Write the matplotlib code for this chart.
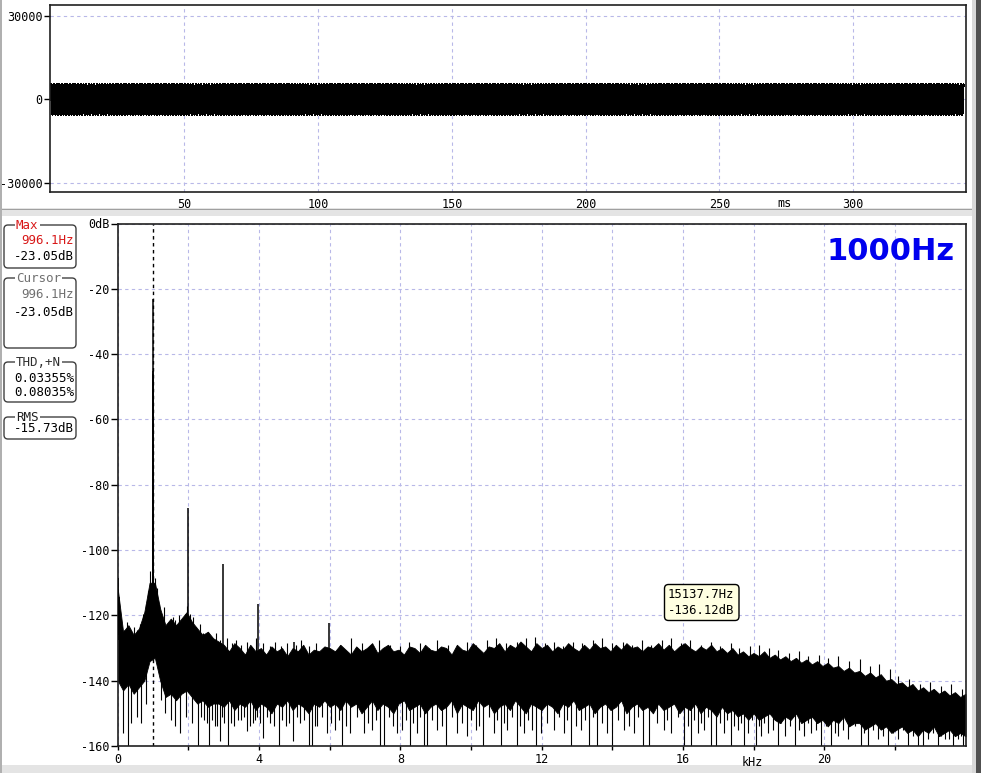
import numpy as np
import matplotlib
matplotlib.use("Agg")
import matplotlib.pyplot as plt
from matplotlib.patches import FancyBboxPatch, Rectangle

W, H = 981, 773
plt.rcParams['font.family'] = ['DejaVu Sans Mono', 'DejaVu Sans']
plt.rcParams['font.size'] = 8.5
plt.rcParams['path.simplify'] = False

# waveform (tone)
sample_rate = 48000
n_samples = 16384
tone_hz = 1000.0
tone_amp = 5355

wave_yticks = [-30000, 0, 30000]
wave_ylabels = ['-30000', '0', '30000']
wave_xticks = [50, 100, 150, 200, 250, 300]

# spectrum: harmonics / main peak bins
peak_khz = [0.0, 0.03, 0.9873, 0.9902, 0.9932, 0.9961, 0.9990, 1.0020, 1.0049, 1.995, 2.99, 3.98, 4.98, 5.97]
peak_db = [-108.6, -114.5, -111, -92.5, -45.3, -23.05, -46.0, -99, -110, -87.0, -104.3, -116.6, -128, -122.2]

# noise floor: upper / lower edge of the dense trace, every 0.15 kHz from 0 to 24 kHz
noise_step_khz = 0.15
noise_hi = [-112, -125, -123, -126, -124, -119, -110, -110, -118, -123, -121, -123, -121, -119, -122, -124, -126, -125, -127, -128,
            -129, -131, -128.5, -130, -132, -129, -131, -130, -132, -129.5, -131, -130, -132.5, -130, -131, -129, -132, -130.5, -131, -129.5,
            -130, -131, -129, -130.5, -132, -129.5, -131, -130, -128.5, -131.5, -130, -129, -131, -130.5, -132, -129.5, -130, -131.5, -129, -130.5,
            -131, -129.5, -130, -132, -129, -130.5, -131, -128.5, -130, -131.5, -129.5, -130, -128.5, -131, -129, -130, -128, -129.5, -131, -128.5,
            -130, -129, -131, -129.5, -130.5, -128.5, -130, -131, -129, -130.5, -128.5, -130, -129.5, -131, -129, -130.5, -128.5, -130, -129.5, -131,
            -129.5, -130, -128.5, -130.5, -129, -131, -129.5, -128.5, -130, -131, -129.5, -130.5, -129, -131, -130, -131.5, -130, -132, -131, -132.5,
            -131.5, -132.5, -131, -133, -132, -133.5, -132.5, -134, -133, -134.5, -133.5, -135, -134, -135.5, -134.5, -136, -135.5, -137, -136, -137.5,
            -137, -138.5, -137.5, -139, -138, -140, -139.5, -141, -140.5, -142, -141, -143, -142, -143.5, -142.5, -144, -143, -144.5, -143.5, -145, -144]
noise_lo = [-140, -143, -141, -144, -142, -140, -134, -133, -140, -145, -144, -146, -144, -143, -145, -147, -146, -148, -147, -147,
            -148, -146, -149, -147, -148, -146, -149, -147, -148, -150, -147, -148, -146, -149, -147, -148, -150, -147, -148, -146,
            -148, -147, -149, -146, -148, -147, -150, -148, -146, -149, -147, -148, -150, -147, -146, -149, -148, -147, -150, -148,
            -147, -149, -148, -146, -150, -147, -148, -149, -146, -148, -147, -150, -148, -147, -149, -146, -148, -150, -147, -148,
            -149, -147, -148, -150, -147, -148, -146, -149, -148, -147, -150, -148, -147, -149, -148, -146, -150, -148, -147, -149,
            -148, -150, -147, -149, -148, -147, -150, -148, -149, -147, -150, -148, -149, -151, -148, -150, -149, -151, -150, -152,
            -150, -152, -151, -150, -152, -153, -151, -152, -150, -153, -152, -151, -153, -152, -154, -152, -153, -151, -154, -153,
            -153, -155, -154, -153, -155, -154, -156, -155, -154, -156, -155, -157, -155, -156, -154, -157, -156, -155, -157, -156, -157]

# thin spike tips above the trace
tip_khz = [0.08, 0.18, 0.27, 0.36, 0.45, 0.55, 0.63, 0.72, 0.80, 0.86, 0.92, 1.05, 1.10, 1.16, 1.22, 1.30,
           1.38, 1.47, 1.55, 1.63, 1.72, 1.82, 1.90, 1.97, 2.05, 2.12, 2.22, 2.32, 2.42, 2.55, 2.65, 2.78,
           2.88, 3.08, 3.22, 3.35, 3.50, 3.65, 3.78, 3.90, 4.10, 4.30, 4.45, 4.62, 4.80, 5.05, 5.20, 5.40,
           5.60, 5.80, 6.30, 6.60, 6.90, 7.15, 7.40, 7.70, 8.00, 8.25, 8.55, 8.80, 9.05, 9.35, 9.60, 9.90,
           10.15, 10.45, 10.70, 11.00, 11.30, 11.55, 11.80, 12.10, 12.35, 12.60, 12.90, 13.15, 13.45, 13.70,
           14.00, 14.30, 14.55, 14.85, 15.10, 15.40, 15.65, 15.95, 16.20, 16.50, 16.80, 17.05, 17.35, 17.60,
           17.90, 18.15, 18.45, 18.70, 19.00, 19.30, 19.55, 19.85, 20.10, 20.40, 20.70, 21.00, 21.30, 21.55,
           21.85, 22.10, 22.40, 22.70, 23.00, 23.30, 23.60, 23.90]
tip_db = [-122.5, -124.5, -122, -125.5, -123.5, -124.5, -122.5, -119.5, -116.5, -112.5, -106.5, -108.5, -111.5, -116.5, -119.5, -117.5,
          -122.5, -123.5, -120.5, -121.5, -120, -122.5, -119.5, -117, -119.5, -120.5, -123.5, -122.5, -125.5, -125, -126.5, -125.5,
          -127.5, -127, -128.5, -127.5, -129, -128, -129.5, -127, -128.5, -129.5, -128, -129.5, -128.5, -129, -127.5, -129.5,
          -128.5, -130, -129, -127, -128.5, -129.5, -127.5, -129, -129.5, -128, -128.5, -130, -127.5, -129, -129.5, -128,
          -129, -127.5, -127, -128.5, -128, -127, -126.5, -128.5, -128, -129.5, -128, -128.5, -127.5, -127,
          -128.5, -128, -129, -127.5, -129, -127.5, -127, -128.5, -127.5, -129, -128, -129.5, -128.5, -130,
          -129.5, -129, -130, -130.5, -131.5, -131, -132.5, -132, -133, -132.5, -134, -133.5, -135.5, -135,
          -136.5, -138.5, -139.5, -141, -140.5, -141.5, -141, -142.5]

# deep dips below the trace
dip_khz = [0.15, 0.29, 0.38, 0.55, 0.67, 0.79, 1.22, 1.35, 1.50, 1.62, 1.76, 1.92, 2.10, 2.28, 2.45, 2.59,
           2.75, 2.89, 3.02, 3.13, 3.30, 3.48, 3.65, 3.82, 3.95, 4.12, 4.30, 4.55, 4.75, 4.97, 5.15, 5.40,
           5.49, 5.65, 5.92, 6.16, 6.35, 6.58, 6.96, 7.20, 7.43, 7.55, 7.91, 8.05, 8.27, 8.47, 8.66, 8.74,
           9.04, 9.30, 9.61, 9.89, 10.13, 10.35, 10.65, 10.84, 11.03, 11.31, 11.50, 11.74, 11.83, 11.97,
           12.35, 12.63, 12.82, 13.11, 13.34, 13.58, 13.86, 14.00, 14.34, 14.62, 14.86, 15.05, 15.47, 15.66,
           16.04, 16.23, 16.42, 16.61, 16.80, 16.94, 17.17, 17.36, 17.55, 17.74, 17.83, 18.07, 18.21, 18.40,
           18.69, 18.88, 19.16, 19.44, 19.63, 19.92, 20.20, 20.39, 20.67, 21.05, 21.24, 21.52, 21.81, 22.09,
           22.38, 22.66, 22.80, 22.94, 23.22, 23.41, 23.65, 23.79, 23.93]
dip_db = [-156, -160, -153, -151, -153, -147, -146, -150, -152, -154, -156, -151, -153, -160, -152, -160,
          -154, -158.5, -153, -160, -154, -152, -155.5, -153, -151, -157.5, -153, -160, -154, -158.5, -153, -160,
          -160, -154, -156, -155, -160, -156, -156, -155, -160, -160, -156, -155, -160, -156, -160, -160,
          -155, -160, -156, -157, -155, -160, -156, -160, -155, -160, -156, -155, -160, -156,
          -155, -156, -160, -155, -160, -160, -156, -160, -155, -156, -160, -160, -155, -156,
          -160, -160, -156, -155, -160, -160, -156, -160, -155, -160, -156, -160, -157, -156,
          -160, -157, -160, -157, -156, -160, -160, -157, -158, -160, -160, -158, -160, -158,
          -160, -160, -160, -158, -160, -158, -160, -158, -160]

# shallower dips between the deep ones
dip2_khz = [2.35, 2.52, 2.67, 2.82, 2.96, 3.21, 3.39, 3.56, 3.74, 3.88, 4.04, 4.21, 4.42, 4.65, 4.86, 5.06,
            5.28, 5.57, 5.78, 6.04, 6.25, 6.47, 6.77, 7.08, 7.32, 7.68, 7.80, 8.16, 8.37, 8.57, 8.90, 9.17,
            9.45, 9.75, 10.01, 10.24, 10.50, 10.75, 10.94, 11.17, 11.40, 11.62, 12.16, 12.49, 12.72, 12.97,
            13.23, 13.46, 13.72, 14.17, 14.48, 14.74, 15.26, 15.56, 15.85, 16.13, 16.32, 16.52, 16.70, 17.06,
            17.26, 17.45, 17.64, 17.95, 18.14, 18.30, 18.55, 18.78, 19.02, 19.30, 19.53, 19.78, 20.06, 20.30,
            20.53, 20.86, 21.14, 21.38, 21.66, 21.95, 22.23, 22.52, 23.08, 23.31, 23.53, 23.72, 23.86]
dip2_db = [-151, -153, -152, -154, -151, -153, -152, -151, -154, -152, -153, -151, -154, -152, -153, -151,
           -152, -154, -151, -153, -152, -154, -151, -153, -152, -151, -154, -152, -153, -151, -152, -154,
           -151, -153, -152, -154, -151, -152, -153, -151, -154, -152, -153, -151, -152, -154,
           -152, -151, -153, -152, -154, -151, -153, -152, -151, -154, -152, -153, -151, -153,
           -152, -154, -153, -152, -154, -153, -155, -153, -154, -155, -153, -155, -154, -156,
           -155, -154, -156, -155, -157, -156, -155, -157, -156, -157, -158, -156, -157]

db_ticks = [0, -20, -40, -60, -80, -100, -120, -140, -160]
db_labels = ['0dB', '-20', '-40', '-60', '-80', '-100', '-120', '-140', '-160']
khz_ticks = [0, 4, 8, 12, 16, 20]
khz_minor = [2, 6, 10, 14, 18, 22]

cursor_khz = 0.9961
cursor_text = ['15137.7Hz', '-136.12dB']
tone_label = '1000Hz'
info_titles = ['Max', 'Cursor', 'THD,+N', 'RMS']
info_values = [['996.1Hz', '-23.05dB'], ['996.1Hz', '-23.05dB'], ['0.03355%', '0.08035%'], ['-15.73dB']]

GRID = '#b8b8e8'


def fig_rect(x0, y0, x1, y1):
    return [x0 / W, 1 - y1 / H, (x1 - x0) / W, (y1 - y0) / H]


fig = plt.figure(figsize=(W / 100, H / 100), dpi=100, facecolor='white')

# ---- waveform panel
ax1 = fig.add_axes(fig_rect(49.5, 5, 965.5, 192.3))
t_ms = np.arange(n_samples) / sample_rate * 1000
wave = tone_amp * np.sin(2 * np.pi * tone_hz * t_ms / 1000)
ax1.plot(t_ms, wave, color='black', lw=1.0, antialiased=False)
ax1.set_xlim(-0.45, 342)
ax1.set_ylim(-33250, 33800)
ax1.set_yticks(wave_yticks, wave_ylabels)
ax1.set_xticks(wave_xticks, [str(v) for v in wave_xticks])
ax1.grid(color=GRID, ls=(0, (3, 3)), lw=0.8)
ax1.set_axisbelow(True)
ax1.tick_params(axis='y', direction='out', length=4, width=1, pad=1)
ax1.tick_params(axis='x', length=0, pad=4)

# ---- spectrum panel
ax2 = fig.add_axes(fig_rect(117.8, 223.5, 965.5, 746))
ax2.set_xlim(0, 24)
ax2.set_ylim(-160, 0)
ax2.set_yticks(db_ticks, db_labels)
ax2.set_xticks(khz_ticks, [str(v) for v in khz_ticks])
ax2.set_xticks(khz_minor, minor=True)
ax2.grid(which='both', color=GRID, ls=(0, (3, 3)), lw=0.8)
ax2.set_axisbelow(True)
ax2.tick_params(axis='y', direction='out', length=5, width=1, pad=1)
ax2.tick_params(axis='x', which='both', direction='out', length=3, width=1, pad=2)

ax2.axvline(cursor_khz, color='black', lw=1, ls=(0, (2.5, 2.5)), zorder=1.5)
noise_khz = np.arange(len(noise_hi)) * noise_step_khz
ax2.fill_between(noise_khz, noise_lo, noise_hi, color='black', lw=0.6, edgecolor='black', zorder=2)
mid = (np.array(noise_hi) + np.array(noise_lo)) / 2
ax2.vlines(tip_khz, np.interp(tip_khz, noise_khz, mid), tip_db, color='black', lw=0.8, zorder=2)
ax2.vlines(dip_khz, dip_db, np.interp(dip_khz, noise_khz, mid), color='black', lw=0.8, zorder=2)
ax2.vlines(dip2_khz, dip2_db, np.interp(dip2_khz, noise_khz, mid), color='black', lw=0.8, zorder=2)
ax2.vlines(peak_khz, np.interp(peak_khz, noise_khz, mid), peak_db, color='black', lw=1.1, zorder=3)

for ax in (ax1, ax2):
    for s in ax.spines.values():
        s.set_linewidth(1.2)
        s.set_color('#202020')

# ---- overlay in pixel coordinates
ov = fig.add_axes([0, 0, 1, 1], zorder=10)
ov.set_xlim(0, W)
ov.set_ylim(H, 0)
ov.axis('off')

# window chrome
ov.add_patch(Rectangle((0, 208), W, 8, fc='#e4e4e4', ec='none'))
ov.add_patch(Rectangle((0, 209), W, 1.2, fc='#a0a0a0', ec='none'))
ov.add_patch(Rectangle((0, 765), W, 8, fc='#e4e4e4', ec='none'))
ov.add_patch(Rectangle((0, 0), 2, H, fc='#b0b0b0', ec='none'))
ov.add_patch(Rectangle((972, 0), 9, H, fc='#d8d8d8', ec='none'))
ov.add_patch(Rectangle((976, 0), 5, H, fc='#505050', ec='none'))

ov.text(785, 203.5, 'ms', ha='center', va='center', fontsize=8.5)
ov.text(752, 762, 'kHz', ha='center', va='center', fontsize=8.5)

# info boxes on the left
boxes = [(4, 225, 76, 268), (4, 278, 76, 348), (4, 362, 76, 402), (4, 417, 76, 439)]
value_y = [[240, 257], [295, 312], [378, 392], [429]]
title_colors = ['#d81818', '#707070', '#303030', '#202020']
value_colors = [['#d81818', 'black'], ['#707070', 'black'], ['black', 'black'], ['black']]
for (x0, y0, x1, y1), title, vals, vy, tc, vc in zip(boxes, info_titles, info_values,
                                                     value_y, title_colors, value_colors):
    ov.add_patch(FancyBboxPatch((x0, y0), x1 - x0, y1 - y0,
                                boxstyle='round,pad=0,rounding_size=4',
                                fc='white', ec='#404040', lw=1))
    ov.text(16, y0 + 0.5, title, ha='left', va='center', fontsize=9, color=tc,
            bbox=dict(fc='white', ec='none', pad=1))
    for v, y, c in zip(vals, vy, vc):
        ov.text(74, y, v, ha='right', va='center', fontsize=9, color=c)

# cursor tooltip
ov.add_patch(FancyBboxPatch((664.5, 584.5), 74.5, 36,
                            boxstyle='round,pad=0,rounding_size=4',
                            fc='#ffffe1', ec='black', lw=1))
ov.text(668, 594.5, cursor_text[0], ha='left', va='center', fontsize=8.8)
ov.text(668, 611, cursor_text[1], ha='left', va='center', fontsize=8.8)

ov.text(955, 251, tone_label, ha='right', va='center', fontsize=22, weight='bold',
        color='#0000ee', family='DejaVu Sans')

fig.savefig('out.png', dpi=100, facecolor='white')
